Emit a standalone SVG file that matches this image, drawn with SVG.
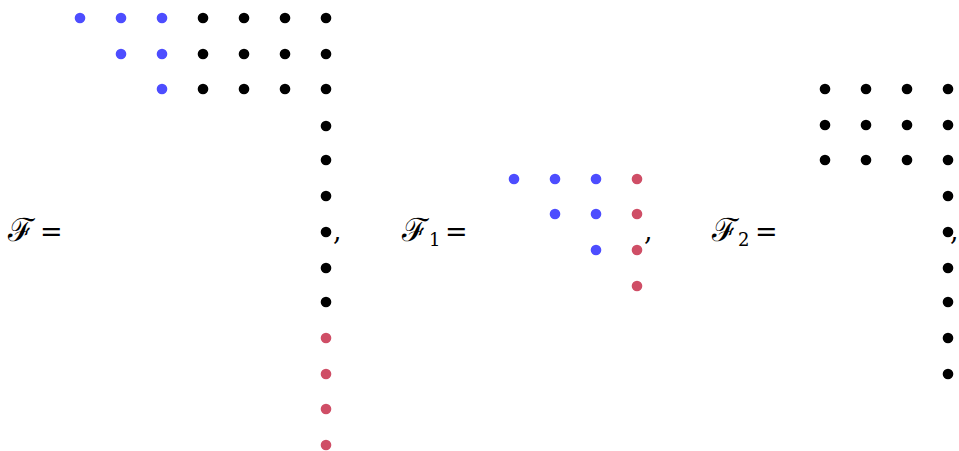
<svg xmlns="http://www.w3.org/2000/svg" width="959" height="451" viewBox="0 0 959 451">
<style>
.k{fill:#000}.b{fill:#4d4dff}.r{fill:#cf4e66}
text{font-family:"DejaVu Serif","Liberation Serif",serif;fill:#000}
.f{font-size:32px}.m{font-size:27px}.s{font-size:18px}
</style>
<defs><circle id="d" r="5.3"/></defs>
<rect width="959" height="451" fill="#fff"/>
<g id="F">
<text class="f" x="8" y="241">ℱ</text>
<text class="m" x="40" y="241">=</text>
<g class="b"><use href="#d" x="80" y="18"/><use href="#d" x="121" y="18"/><use href="#d" x="162" y="18"/><use href="#d" x="121" y="54"/><use href="#d" x="162" y="54"/><use href="#d" x="162" y="89"/></g>
<g class="k"><use href="#d" x="203" y="18"/><use href="#d" x="244" y="18"/><use href="#d" x="285" y="18"/><use href="#d" x="326" y="18"/>
<use href="#d" x="203" y="54"/><use href="#d" x="244" y="54"/><use href="#d" x="285" y="54"/><use href="#d" x="326" y="54"/>
<use href="#d" x="203" y="89"/><use href="#d" x="244" y="89"/><use href="#d" x="285" y="89"/><use href="#d" x="326" y="89"/>
<use href="#d" x="326" y="126"/><use href="#d" x="326" y="160"/><use href="#d" x="326" y="196"/><use href="#d" x="326" y="232"/><use href="#d" x="326" y="268"/><use href="#d" x="326" y="302"/></g>
<g class="r"><use href="#d" x="326" y="338"/><use href="#d" x="326" y="374"/><use href="#d" x="326" y="409"/><use href="#d" x="326" y="445"/></g>
<text class="m" x="333" y="240">,</text>
</g>
<g id="F1">
<text class="f" x="402" y="241">ℱ</text>
<text class="s" x="429" y="246">1</text>
<text class="m" x="445" y="241">=</text>
<g class="b"><use href="#d" x="514" y="179"/><use href="#d" x="555" y="179"/><use href="#d" x="596" y="179"/><use href="#d" x="555" y="214"/><use href="#d" x="596" y="214"/><use href="#d" x="596" y="250"/></g>
<g class="r"><use href="#d" x="637" y="179"/><use href="#d" x="637" y="214"/><use href="#d" x="637" y="250"/><use href="#d" x="637" y="286"/></g>
<text class="m" x="644" y="240">,</text>
</g>
<g id="F2">
<text class="f" x="712" y="241">ℱ</text>
<text class="s" x="738" y="246">2</text>
<text class="m" x="755" y="241">=</text>
<g class="k"><use href="#d" x="825" y="89"/><use href="#d" x="866" y="89"/><use href="#d" x="907" y="89"/><use href="#d" x="948" y="89"/>
<use href="#d" x="825" y="125"/><use href="#d" x="866" y="125"/><use href="#d" x="907" y="125"/><use href="#d" x="948" y="125"/>
<use href="#d" x="825" y="160"/><use href="#d" x="866" y="160"/><use href="#d" x="907" y="160"/><use href="#d" x="948" y="160"/>
<use href="#d" x="948" y="196"/><use href="#d" x="948" y="232"/><use href="#d" x="948" y="268"/><use href="#d" x="948" y="302"/><use href="#d" x="948" y="338"/><use href="#d" x="948" y="374"/></g>
<text class="m" x="950" y="240" font-size="22">,</text>
</g>
<g id="connectors"/>
</svg>
